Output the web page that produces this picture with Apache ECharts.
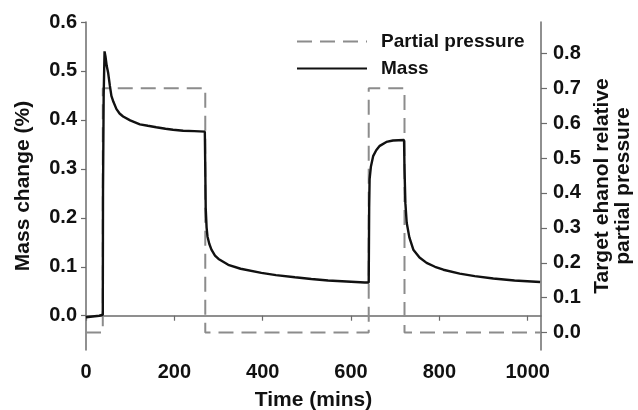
<!DOCTYPE html>
<html>
<head>
<meta charset="utf-8">
<script src="https://cdn.jsdelivr.net/npm/echarts@6/dist/echarts.min.js"></script>
<style>
  html, body { margin: 0; padding: 0; background: #fff; }
  #chart { width: 638px; height: 410px; }
</style>
</head>
<body>
<div id="chart"></div>
<script>
var timeTicks = [0, 200, 400, 600, 800, 1000];
var massTicks = [0, 0.1, 0.2, 0.3, 0.4, 0.5, 0.6];
var pressureTicks = [0, 0.1, 0.2, 0.3, 0.4, 0.5, 0.6, 0.7, 0.8];

// target partial pressure steps (mins, relative pressure)
var pressureTime = [0, 38, 38, 270, 270, 640, 640, 721, 721, 1030];
var pressureValue = [0, 0, 0.7, 0.7, 0, 0, 0.7, 0.7, 0, 0];

// mass change (mins, %)
var massTime = [0, 10, 20, 30, 38, 38.5, 40, 42, 44, 47, 50, 54, 57.5, 62, 69, 76, 84, 100, 122, 140, 159, 180, 197, 220, 245, 269,
    270, 271, 273, 275, 279, 284, 292, 300, 322, 350, 397, 430, 473, 510, 548, 590, 631, 640,
    641, 642, 645, 650, 657, 665, 680, 695, 720,
    721, 723, 726, 732, 741, 755, 771, 790, 809, 846, 880, 922, 970, 1028];
var massValue = [-0.003, -0.002, -0.001, 0.0, 0.002, 0.25, 0.45, 0.540, 0.53, 0.51, 0.497, 0.47, 0.449, 0.437, 0.422, 0.413, 0.407, 0.399, 0.391, 0.388, 0.385, 0.382, 0.380, 0.378, 0.377, 0.376,
    0.30, 0.22, 0.18, 0.162, 0.147, 0.135, 0.123, 0.116, 0.104, 0.096, 0.0875, 0.083, 0.0785, 0.075, 0.072, 0.070, 0.068, 0.068,
    0.22, 0.279, 0.305, 0.326, 0.338, 0.347, 0.355, 0.358, 0.359,
    0.30, 0.23, 0.19, 0.16, 0.135, 0.119, 0.108, 0.100, 0.094, 0.086, 0.081, 0.076, 0.072, 0.069];

function pairs(xs, ys) {
    var out = [];
    for (var i = 0; i < xs.length; i++) {
        out.push([xs[i], ys[i]]);
    }
    return out;
}

var font = 'Liberation Sans, Arial, sans-serif';
var axisColor = '#6b6b6b';

var chart = echarts.init(document.getElementById('chart'), null, { renderer: 'canvas' });

var option = {
    animation: false,
    backgroundColor: '#fff',
    grid: { left: 86, right: 97, top: 22, bottom: 60, containLabel: false, outerBoundsMode: 'none' },
    legend: {
        orient: 'vertical',
        left: 291,
        top: 27,
        itemWidth: 70,
        itemHeight: 14,
        itemGap: 8,
        itemStyle: { opacity: 0 },
        textStyle: { color: '#111', fontFamily: font, fontWeight: 'bold', fontSize: 19, padding: [0, 0, 0, 9] },
        data: ['Partial pressure', 'Mass']
    },
    xAxis: {
        type: 'value',
        min: 0,
        max: 1030,
        name: 'Time (mins)',
        nameLocation: 'middle',
        nameGap: 40,
        nameTextStyle: { color: '#111', fontFamily: font, fontWeight: 'bold', fontSize: 21 },
        axisLine: { show: true, lineStyle: { color: axisColor, width: 1.5 } },
        axisTick: { show: true, length: 5, customValues: timeTicks, lineStyle: { color: axisColor, width: 1.2 } },
        axisLabel: {
            customValues: timeTicks,
            margin: 12,
            color: '#111', fontFamily: font, fontWeight: 'bold', fontSize: 20,
            formatter: function (v) { return String(v); }
        },
        splitLine: { show: false }
    },
    yAxis: [{
        type: 'value',
        min: -0.07,
        max: 0.6,
        name: 'Mass change (%)',
        nameLocation: 'middle',
        nameRotate: 90,
        nameGap: 52,
        nameTextStyle: { color: '#111', fontFamily: font, fontWeight: 'bold', fontSize: 21 },
        axisLine: { show: true, lineStyle: { color: axisColor, width: 1.5 } },
        axisTick: { show: true, length: 5, customValues: massTicks, lineStyle: { color: axisColor, width: 1.2 } },
        axisLabel: {
            customValues: massTicks,
            margin: 9,
            color: '#111', fontFamily: font, fontWeight: 'bold', fontSize: 20,
            formatter: function (v) { return v.toFixed(1); }
        },
        splitLine: { show: false }
    }, {
        type: 'value',
        min: -0.05,
        max: 0.89,
        position: 'right',
        name: 'Target ehanol relative\npartial pressure',
        nameLocation: 'middle',
        nameRotate: 90,
        nameGap: 50,
        nameTextStyle: { color: '#111', fontFamily: font, fontWeight: 'bold', fontSize: 21, lineHeight: 21 },
        axisLine: { show: true, lineStyle: { color: axisColor, width: 1.5 } },
        axisTick: { show: true, length: 6, customValues: pressureTicks, lineStyle: { color: axisColor, width: 1.2 } },
        axisLabel: {
            customValues: pressureTicks,
            margin: 12,
            color: '#111', fontFamily: font, fontWeight: 'bold', fontSize: 20,
            formatter: function (v) { return v.toFixed(1); }
        },
        splitLine: { show: false }
    }],
    series: [{
        name: 'Partial pressure',
        type: 'line',
        yAxisIndex: 1,
        symbol: 'none',
        data: pairs(pressureTime, pressureValue),
        lineStyle: { color: '#8c8c8c', width: 2, type: [15, 8] },
        itemStyle: { color: '#8c8c8c' },
        z: 2
    }, {
        name: 'Mass',
        type: 'line',
        yAxisIndex: 0,
        symbol: 'none',
        data: pairs(massTime, massValue),
        lineStyle: { color: '#111', width: 2.4 },
        itemStyle: { color: '#111' },
        z: 3
    }]
};

chart.setOption(option);
</script>
</body>
</html>
